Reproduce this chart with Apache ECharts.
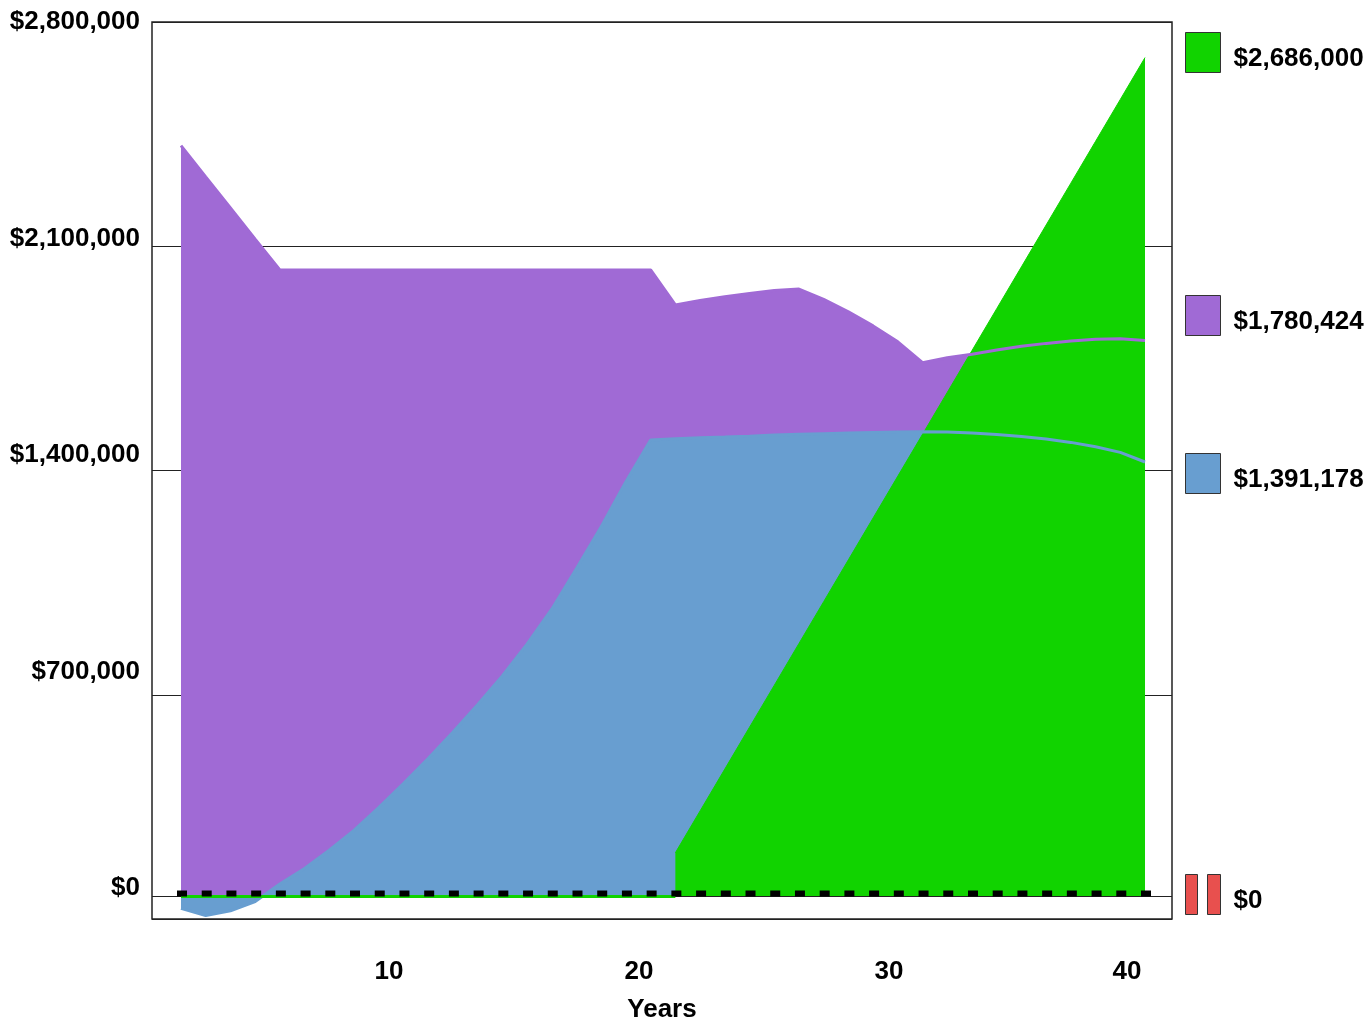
<!DOCTYPE html>
<html>
<head>
<meta charset="utf-8">
<title>Years</title>
<script src="https://cdn.jsdelivr.net/npm/echarts@6/dist/echarts.min.js"></script>
<style>
    html, body { margin: 0; padding: 0; background: #fff; }
    #chart { width: 1369px; height: 1025px; }
</style>
</head>
<body>
<div id="chart"></div>
<script>
// 数据
const years = [1, 2, 3, 4, 5, 6, 7, 8, 9, 10, 11, 12, 13, 14, 15, 16, 17, 18, 19, 20,
    21, 22, 23, 24, 25, 26, 27, 28, 29, 30, 31, 32, 33, 34, 35, 36, 37, 38, 39, 40];

const greenValues = [0, 0, 0, 0, 0, 0, 0, 0, 0, 0, 0, 0, 0, 0, 0, 0, 0, 0, 0, 0,
    140000, 274000, 408000, 542000, 676000, 810000, 944000, 1078000, 1212000, 1346000,
    1480000, 1614000, 1748000, 1882000, 2016000, 2150000, 2284000, 2418000, 2552000, 2686000];

const purpleValues = [2404000, 2304000, 2205000, 2105000, 2006000, 2006000, 2006000, 2006000,
    2006000, 2006000, 2006000, 2006000, 2006000, 2006000, 2006000, 2006000, 2006000, 2006000,
    2006000, 2006000, 1894000, 1908000, 1920000, 1931000, 1940000, 1945000, 1912000, 1872000,
    1827000, 1776000, 1709000, 1725000, 1736000, 1750000, 1762000, 1771000, 1779000, 1784000,
    1786000, 1780424];

const blueValues = [-38000, -61000, -46000, -16000, 40000, 90000, 148000, 212000, 285000, 362000,
    442000, 526000, 614000, 706000, 808000, 920000, 1050000, 1184000, 1328000, 1462000,
    1466000, 1469000, 1471000, 1474000, 1478000, 1480000, 1482000, 1484000, 1486000, 1487000,
    1488000, 1487000, 1484000, 1479000, 1473000, 1465000, 1454000, 1440000, 1422000, 1391178];

const debtValues = [0, 0, 0, 0, 0, 0, 0, 0, 0, 0, 0, 0, 0, 0, 0, 0, 0, 0, 0, 0,
    0, 0, 0, 0, 0, 0, 0, 0, 0, 0, 0, 0, 0, 0, 0, 0, 0, 0, 0, 0];

const yTickLabels = [0, 700000, 1400000, 2100000, 2800000];
const xTickLabels = [10, 20, 30, 40];

const COLORS = {
    green: '#11d300',
    purple: '#a06ad5',
    blue: '#689ed0',
    red: '#e8504e'
};
const FONT = '"Liberation Sans", Arial, Helvetica, sans-serif';

const _money = (v) => '$' + Math.round(v).toLocaleString('en-US');
const _pairs = (values) => years.map((y, i) => [y, values[i]]);
const _last = (values) => values[values.length - 1];

// 绿色面积: 前面为0的部分只画一条0线
const greenArea = years.map((y, i) => [y, greenValues[i] === 0 ? null : greenValues[i]]);
const greenZero = years.map((y, i) => [y, (greenValues[i] === 0 || greenValues[i - 1] === 0) ? 0 : null]);

const _labelStyle = {
    color: '#000',
    fontFamily: FONT,
    fontWeight: 'bold',
    fontSize: 26
};

const _areaSeries = (name, values, color, z) => ({
    name: name,
    type: 'line',
    data: _pairs(values),
    xAxisIndex: 0,
    yAxisIndex: 0,
    showSymbol: false,
    lineStyle: { width: 0 },
    itemStyle: { color: color },
    areaStyle: { color: color, opacity: 1 },
    z: z
});

const _lineSeries = (name, values, color, z) => ({
    name: name,
    type: 'line',
    data: _pairs(values),
    xAxisIndex: 0,
    yAxisIndex: 0,
    showSymbol: false,
    lineStyle: { width: 3, color: color },
    itemStyle: { color: color },
    z: z
});

// 右侧图例, 每项单独放
const _legend = (name, top, values, icon) => ({
    left: 1185,
    top: top,
    orient: 'vertical',
    padding: 0,
    itemWidth: 35,
    itemHeight: 40,
    selectedMode: false,
    icon: icon || 'rect',
    data: [name],
    itemStyle: { borderColor: '#333', borderWidth: 1 },
    formatter: () => '{v|' + _money(_last(values)) + '}',
    textStyle: {
        color: '#000',
        fontFamily: FONT,
        fontWeight: 'bold',
        fontSize: 26,
        rich: {
            v: Object.assign({}, _labelStyle, { padding: [12, 0, 0, 8] })
        }
    }
});

let chart = echarts.init(document.getElementById('chart'));

chart.setOption({
    animation: false,
    backgroundColor: '#fff',
    grid: {
        left: 152,
        top: 22,
        width: 1020,
        height: 897,
        outerBoundsMode: 'none',
        show: true,
        borderColor: '#222',
        borderWidth: 1.5,
        backgroundColor: 'transparent'
    },
    legend: [
        _legend('Taxable', 32, greenValues),
        _legend('Tax-deferred', 295, purpleValues),
        _legend('Tax-free', 453, blueValues),
        _legend('Debt', 874, debtValues, 'path://M0,0h12v40h-12z M22,0h13v40h-13z')
    ],
    xAxis: [
        {
            // 数据轴
            type: 'value',
            position: 'bottom',
            min: -0.173,
            max: 41.092,
            axisLine: { show: false },
            axisTick: { show: false },
            axisLabel: { show: false },
            splitLine: { show: false }
        },
        {
            // 刻度文字
            type: 'value',
            position: 'bottom',
            offset: 0,
            min: 0.52,
            max: 41.32,
            axisLine: { show: false, onZero: false },
            axisTick: { show: false },
            splitLine: { show: false },
            axisLabel: Object.assign({}, _labelStyle, {
                customValues: xTickLabels,
                margin: 40,
                formatter: (v) => v === xTickLabels[xTickLabels.length - 1] ? '{last|' + v + '}' : String(v),
                rich: {
                    last: Object.assign({}, _labelStyle, { padding: [0, 24, 0, 0] })
                }
            }),
            name: 'Years',
            nameLocation: 'middle',
            nameGap: 78,
            nameTextStyle: _labelStyle
        }
    ],
    yAxis: [
        {
            // 数据轴
            type: 'value',
            position: 'left',
            min: -72000,
            max: 2800000,
            axisLine: { show: false },
            axisTick: { show: false },
            axisLabel: { show: false },
            splitLine: { show: false }
        },
        {
            // 网格线
            type: 'value',
            position: 'left',
            offset: 0,
            min: 0,
            max: 4,
            interval: 1,
            axisLine: { show: false },
            axisTick: { show: false },
            axisLabel: { show: false },
            splitLine: { show: true, lineStyle: { color: '#222', width: 1 } }
        },
        {
            // 刻度文字
            type: 'value',
            position: 'left',
            offset: 0,
            min: -100000,
            max: 2800000,
            axisLine: { show: false },
            axisTick: { show: false },
            splitLine: { show: false },
            axisLabel: Object.assign({}, _labelStyle, {
                customValues: yTickLabels,
                margin: 12,
                padding: [3, 0, 0, 0],
                formatter: (v) => _money(v)
            })
        }
    ],
    series: [
        Object.assign(_areaSeries('Tax-deferred', purpleValues, COLORS.purple, 2), {
            markLine: {
                silent: true,
                symbol: 'none',
                label: { show: false },
                lineStyle: { color: '#222', width: 1, type: 'solid' },
                data: [{ yAxis: 0 }]
            }
        }),
        _areaSeries('Tax-free', blueValues, COLORS.blue, 3),
        {
            name: 'Taxable',
            type: 'line',
            data: greenArea,
            xAxisIndex: 0,
            yAxisIndex: 0,
            showSymbol: false,
            connectNulls: false,
            lineStyle: { width: 1, color: COLORS.green },
            itemStyle: { color: COLORS.green },
            areaStyle: { color: COLORS.green, opacity: 1 },
            z: 4
        },
        _lineSeries('purpleLine', purpleValues, COLORS.purple, 5),
        _lineSeries('blueLine', blueValues, COLORS.blue, 6),
        {
            name: 'greenZero',
            type: 'line',
            data: greenZero,
            xAxisIndex: 0,
            yAxisIndex: 0,
            showSymbol: false,
            lineStyle: { width: 3, color: COLORS.green },
            z: 7
        },
        {
            name: 'Debt',
            type: 'line',
            data: _pairs(debtValues),
            xAxisIndex: 0,
            yAxisIndex: 0,
            showSymbol: false,
            lineStyle: { width: 0, opacity: 0 },
            itemStyle: { color: COLORS.red },
            z: 1
        },
        {
            // 黑色点线
            name: 'zeroMarks',
            type: 'line',
            data: _pairs(debtValues),
            xAxisIndex: 0,
            yAxisIndex: 0,
            symbol: 'rect',
            symbolSize: [10, 6],
            symbolOffset: [1, -3],
            showAllSymbol: true,
            lineStyle: { width: 0, opacity: 0 },
            itemStyle: { color: '#000' },
            z: 8
        }
    ]
});
</script>
</body>
</html>
